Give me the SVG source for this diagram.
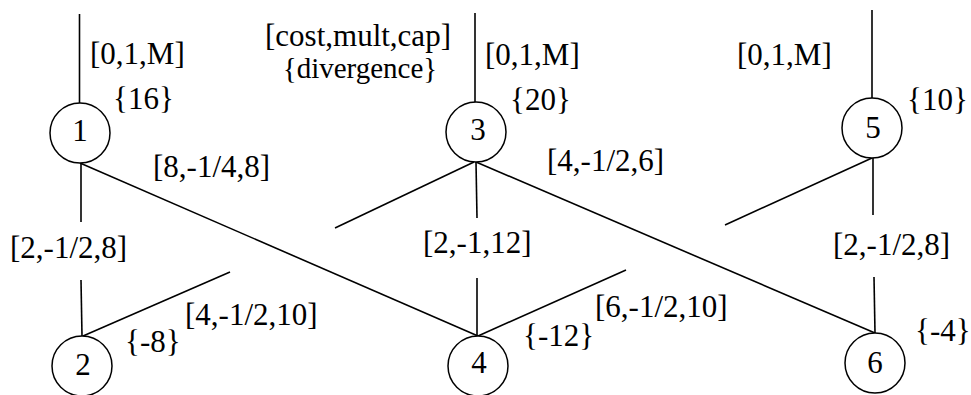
<svg xmlns="http://www.w3.org/2000/svg" width="971" height="395" viewBox="0 0 971 395">
<style>
.n{fill:#fff;stroke:#000;stroke-width:1.5}
.e{stroke:#000;stroke-width:1.6;fill:none}
text{font-family:"Liberation Serif","Times New Roman",serif;font-size:31px;fill:#000}
.c{text-anchor:middle}
.s{font-size:29px}
</style>
<rect width="971" height="395" fill="#fff"/>
<g id="connectors">
<line class="e" x1="79.5" y1="14" x2="79.5" y2="103"/>
<line class="e" x1="81" y1="163" x2="81" y2="222"/>
<line class="e" x1="81" y1="280" x2="82" y2="336"/>
<line class="e" x1="80" y1="163" x2="478" y2="336"/>
<line class="e" x1="83" y1="336" x2="230" y2="272"/>
<line class="e" x1="335" y1="228" x2="474" y2="162"/>
<line class="e" x1="475" y1="13" x2="475" y2="102"/>
<line class="e" x1="476" y1="162" x2="477" y2="218"/>
<line class="e" x1="477" y1="278" x2="477" y2="336"/>
<line class="e" x1="476" y1="162" x2="875" y2="333"/>
<line class="e" x1="478" y1="336" x2="626" y2="270"/>
<line class="e" x1="725" y1="225" x2="872" y2="158"/>
<line class="e" x1="872" y1="10" x2="872" y2="98"/>
<line class="e" x1="873" y1="158" x2="873" y2="215"/>
<line class="e" x1="874" y1="277" x2="875" y2="333"/>
</g>
<g id="labels">
<text x="90" y="64">[0,1,M]</text>
<text class="c" x="358" y="46">[cost,mult,cap]</text>
<text class="c s" x="360" y="78">{divergence}</text>
<text x="485" y="65">[0,1,M]</text>
<text x="737" y="65">[0,1,M]</text>
<text x="113" y="109">{16}</text>
<text x="510" y="110">{20}</text>
<text x="907" y="110">{10}</text>
<text x="153" y="177">[8,-1/4,8]</text>
<text x="547" y="171">[4,-1/2,6]</text>
<text x="10" y="258">[2,-1/2,8]</text>
<text x="423" y="253">[2,-1,12]</text>
<text x="833" y="255">[2,-1/2,8]</text>
<text x="185" y="325">[4,-1/2,10]</text>
<text x="595" y="317">[6,-1/2,10]</text>
<text x="125" y="352">{-8}</text>
<text x="523" y="346">{-12}</text>
<text x="915" y="341">{-4}</text>
</g>
<g id="node1"><circle class="n" cx="80" cy="133" r="30"/><text class="c" x="80" y="141">1</text></g>
<g id="node2"><circle class="n" cx="82" cy="366" r="30"/><text class="c" x="83" y="375">2</text></g>
<g id="node3"><circle class="n" cx="476" cy="132" r="30"/><text class="c" x="478" y="140">3</text></g>
<g id="node4"><circle class="n" cx="478" cy="366" r="30"/><text class="c" x="479" y="373">4</text></g>
<g id="node5"><circle class="n" cx="872" cy="128" r="30"/><text class="c" x="873" y="138">5</text></g>
<g id="node6"><circle class="n" cx="875" cy="363" r="30"/><text class="c" x="875" y="373">6</text></g>
</svg>
